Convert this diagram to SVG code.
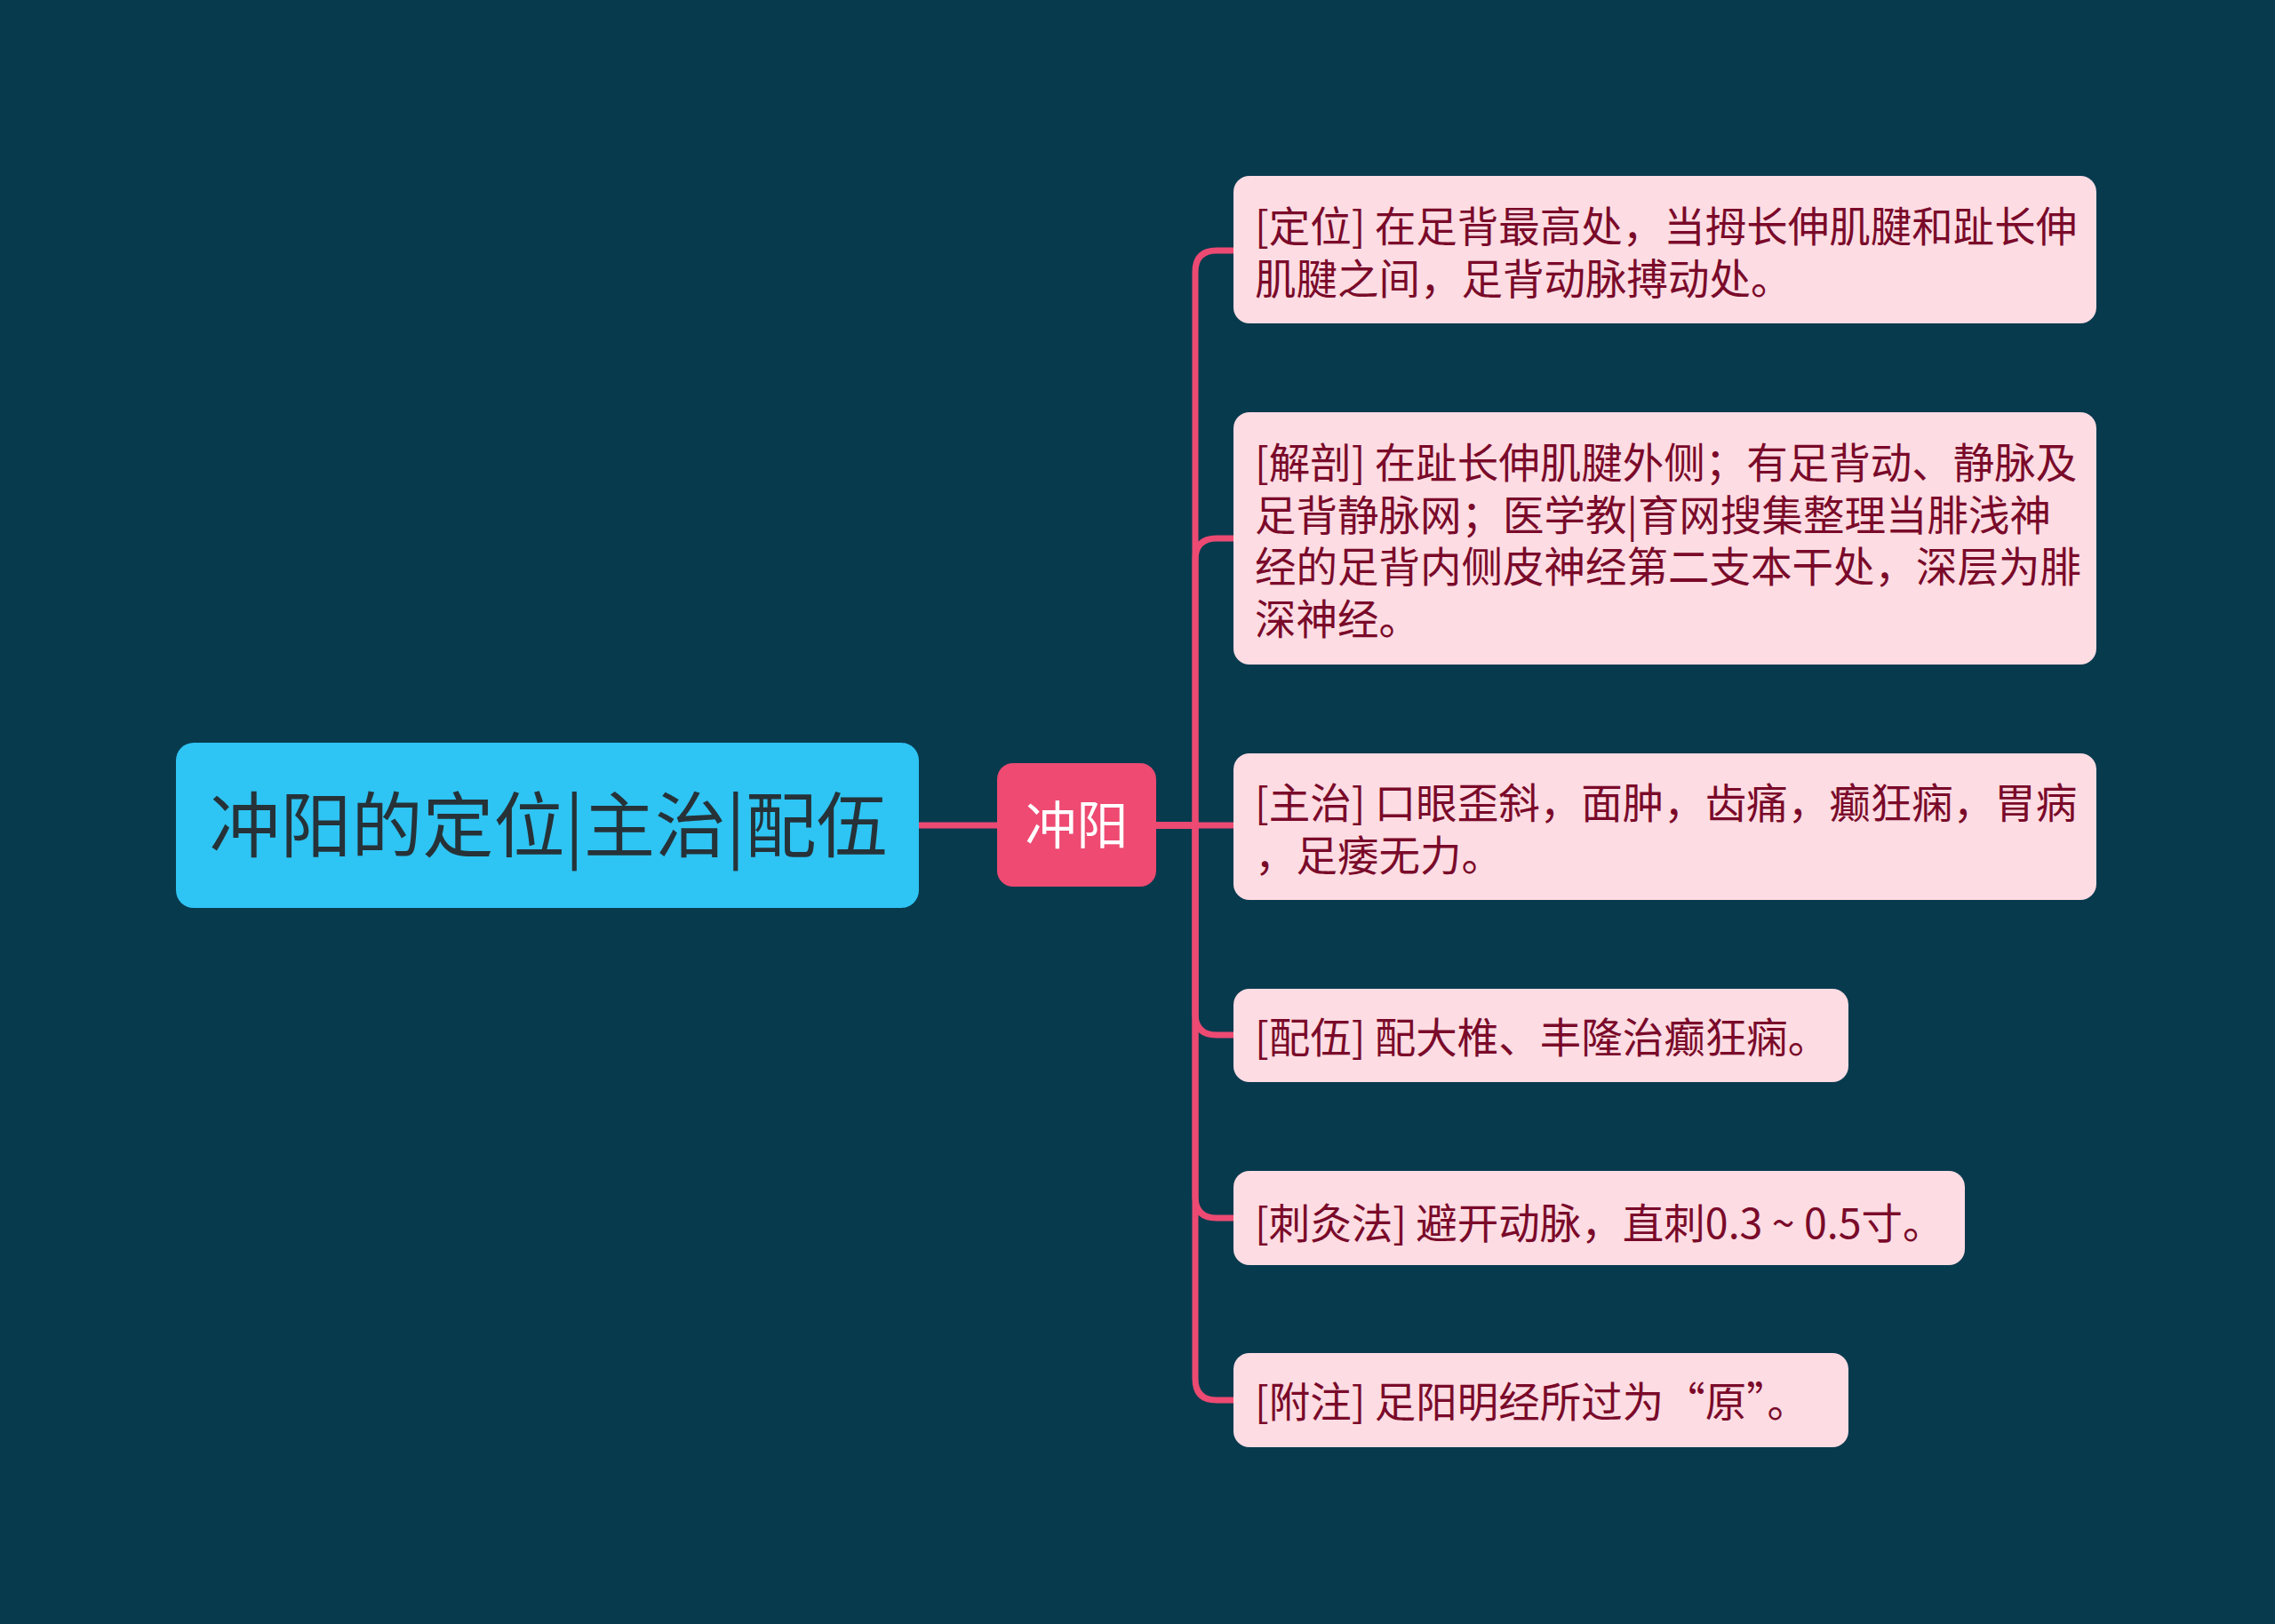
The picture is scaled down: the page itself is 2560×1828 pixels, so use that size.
<svg xmlns="http://www.w3.org/2000/svg" width="2560" height="1828" viewBox="0 0 2560 1828">
<style>
.leaf rect{fill:#FDDCE3;}
.leaf text{font-family:"Noto Sans CJK SC","Noto Sans",sans-serif;font-size:46.5px;fill:#7A0A2A;}
.conn path{fill:none;stroke:#EC4A72;stroke-width:7;}
</style>
<rect width="2560" height="1828" fill="#083A4E"/>
<g id="connectors" class="conn">
<path d="M1034,929 H1122"/>
<path d="M1301,929 H1345 V306 Q1345,282 1369,282 H1388"/>
<path d="M1301,929 H1345 V630 Q1345,606 1369,606 H1388"/>
<path d="M1301,929 H1388"/>
<path d="M1301,929 H1345 V1141 Q1345,1165 1369,1165 H1388"/>
<path d="M1301,929 H1345 V1347 Q1345,1371 1369,1371 H1388"/>
<path d="M1301,929 H1345 V1552 Q1345,1576 1369,1576 H1388"/>
</g>
<g id="root">
<rect x="198" y="836" width="836" height="186" rx="20" fill="#2EC4F3"/>
<text x="617" y="958" text-anchor="middle" font-family="Noto Sans CJK SC, Noto Sans, sans-serif" font-size="80" fill="#263238">冲阳的定位|主治|配伍</text>
</g>
<g id="main">
<rect x="1122" y="859" width="179" height="139" rx="18" fill="#EE4A72"/>
<text x="1211.5" y="950" text-anchor="middle" font-family="Noto Sans CJK SC, Noto Sans, sans-serif" font-size="58" fill="#FFFFFF">冲阳</text>
</g>
<g id="leaf1" class="leaf">
<rect x="1388" y="198" width="971" height="166" rx="18"/>
<text x="1412" y="272">[定位] 在足背最高处，当拇长伸肌腱和趾长伸</text>
<text x="1412" y="331">肌腱之间，足背动脉搏动处。</text>
</g>
<g id="leaf2" class="leaf">
<rect x="1388" y="464" width="971" height="284" rx="18"/>
<text x="1412" y="538">[解剖] 在趾长伸肌腱外侧；有足背动、静脉及</text>
<text x="1412" y="597">足背静脉网；医学教|育网搜集整理当腓浅神</text>
<text x="1412" y="655">经的足背内侧皮神经第二支本干处，深层为腓</text>
<text x="1412" y="714">深神经。</text>
</g>
<g id="leaf3" class="leaf">
<rect x="1388" y="848" width="971" height="165" rx="18"/>
<text x="1412" y="921">[主治] 口眼歪斜，面肿，齿痛，癫狂痫，胃病</text>
<text x="1412" y="980">，足痿无力。</text>
</g>
<g id="leaf4" class="leaf">
<rect x="1388" y="1113" width="692" height="105" rx="18"/>
<text x="1412" y="1185">[配伍] 配大椎、丰隆治癫狂痫。</text>
</g>
<g id="leaf5" class="leaf">
<rect x="1388" y="1318" width="823" height="106" rx="18"/>
<text x="1412" y="1394">[刺灸法] 避开动脉，直刺0.3 ~ 0.5寸。</text>
</g>
<g id="leaf6" class="leaf">
<rect x="1388" y="1523" width="692" height="106" rx="18"/>
<text x="1412" y="1595">[附注] 足阳明经所过为“原”。</text>
</g>
</svg>
